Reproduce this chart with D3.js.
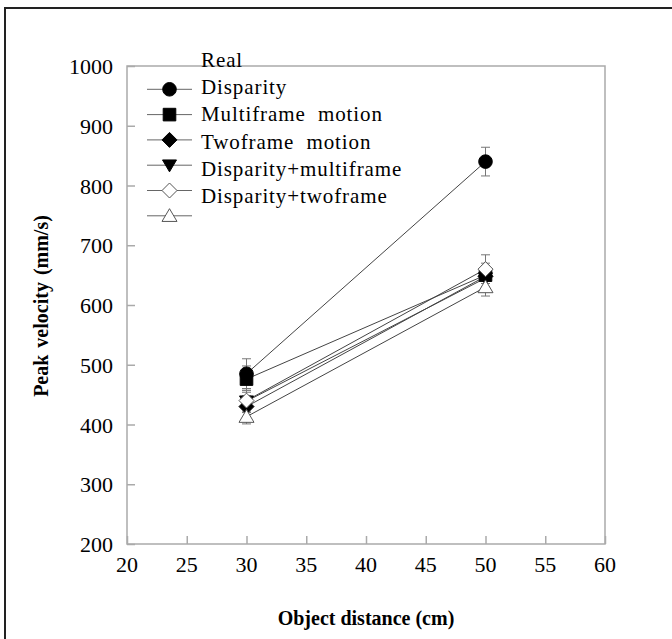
<!DOCTYPE html>
<html>
<head>
<meta charset="utf-8">
<script src="https://cdn.jsdelivr.net/npm/d3@7"></script>
<style>
  body { margin: 0; background: #fff; }
  svg { display: block; }
  text { font-family: "Liberation Serif", "Times New Roman", serif; fill: #000; }
</style>
</head>
<body>
<svg id="chart" width="672" height="639"></svg>
<script>
// object distance (cm)
var distances = [30, 50];
var xTicks = [20, 25, 30, 35, 40, 45, 50, 55, 60];
var yTicks = [200, 300, 400, 500, 600, 700, 800, 900, 1000];

// legend texts (they sit one row above their markers, as in the original)
var labels = ['Real', 'Disparity', 'Multiframe  motion', 'Twoframe  motion',
              'Disparity+multiframe', 'Disparity+twoframe'];
var shapes = ['circle', 'square', 'diamond', 'down', 'odiamond', 'otriangle'];

// peak velocity (mm/s) and error, per series, at 30 and 50 cm
var realV = [485, 840], realE = [25, 24];
var disparityV = [476, 650], disparityE = [22, 20];
var multiV = [430, 648], multiE = [18, 18];
var twoV = [439, 645], twoE = [18, 18];
var dispMultiV = [440, 660], dispMultiE = [20, 24];
var dispTwoV = [413, 630], dispTwoE = [12, 15];

var series = [
    { v: realV, e: realE },
    { v: disparityV, e: disparityE },
    { v: multiV, e: multiE },
    { v: twoV, e: twoE },
    { v: dispMultiV, e: dispMultiE },
    { v: dispTwoV, e: dispTwoE }
];

var svg = d3.select('#chart');
var plotL = 127, plotT = 66, plotR = 605, plotB = 544;

var x = d3.scaleLinear().domain([20, 60]).range([plotL, plotR]);
var y = d3.scaleLinear().domain([200, 1000]).range([plotB, plotT]);

// outer frame (only top and left edges are in view)
svg.append('path')
    .attr('d', 'M5,672V8H672')
    .attr('fill', 'none')
    .attr('stroke', '#222')
    .attr('stroke-width', 2);

// plot frame
svg.append('rect')
    .attr('x', plotL).attr('y', plotT)
    .attr('width', plotR - plotL).attr('height', plotB - plotT)
    .attr('fill', 'none').attr('stroke', '#aaa').attr('stroke-width', 1.5);

// axes with inward ticks
var yAxis = svg.append('g').attr('transform', 'translate(' + plotL + ',0)')
    .call(d3.axisRight(y).tickValues(yTicks).tickSize(8).tickFormat(''));
var xAxis = svg.append('g').attr('transform', 'translate(0,' + plotB + ')')
    .call(d3.axisTop(x).tickValues(xTicks).tickSize(8).tickFormat(''));
[yAxis, xAxis].forEach(function (g) {
    g.select('.domain').remove();
    g.selectAll('line').attr('stroke', '#aaa').attr('stroke-width', 1.5);
});

svg.selectAll('.ylab').data(yTicks).enter().append('text')
    .attr('x', plotL - 14).attr('y', function (d) { return y(d) + 8; })
    .attr('text-anchor', 'end').attr('font-size', 22)
    .text(function (d) { return d; });
svg.selectAll('.xlab').data(xTicks).enter().append('text')
    .attr('x', function (d) { return x(d); }).attr('y', 572)
    .attr('text-anchor', 'middle').attr('font-size', 22)
    .text(function (d) { return d; });

svg.append('text')
    .attr('transform', 'translate(48,306) rotate(-90)')
    .attr('text-anchor', 'middle').attr('font-size', 20).attr('font-weight', 'bold')
    .style('word-spacing', '2px')
    .text('Peak velocity (mm/s)');
svg.append('text')
    .attr('x', 366).attr('y', 625)
    .attr('text-anchor', 'middle').attr('font-size', 20).attr('font-weight', 'bold')
    .style('word-spacing', '0px')
    .text('Object distance (cm)');

function shapePath(kind, r) {
    switch (kind) {
        case 'circle':
            return 'M' + (-r) + ',0A' + r + ',' + r + ' 0 1,0 ' + r + ',0A' + r + ',' + r + ' 0 1,0 ' + (-r) + ',0Z';
        case 'square':
            return 'M' + (-r) + ',' + (-r) + 'H' + r + 'V' + r + 'H' + (-r) + 'Z';
        case 'diamond':
        case 'odiamond':
            return 'M0,' + (-r) + 'L' + r + ',0L0,' + r + 'L' + (-r) + ',0Z';
        case 'down':
            return 'M' + (-r) + ',' + (-r * 0.75) + 'H' + r + 'L0,' + (r * 0.95) + 'Z';
        case 'otriangle':
            return 'M0,' + (-r * 0.95) + 'L' + r + ',' + (r * 0.75) + 'H' + (-r) + 'Z';
    }
}
var shapeSize = { circle: 6.8, square: 6.3, diamond: 7.5, down: 7, odiamond: 7.5, otriangle: 7.5 };
function isOpen(kind) { return kind === 'odiamond' || kind === 'otriangle'; }

var line = d3.line()
    .x(function (d) { return x(d[0]); })
    .y(function (d) { return y(d[1]); });

// error bars first, then lines, then markers
series.forEach(function (s) {
    var pts = distances.map(function (d, i) { return { x: d, v: s.v[i], e: s.e[i] }; });
    var eb = svg.append('g').attr('stroke', '#777').attr('stroke-width', 1);
    pts.forEach(function (p) {
        var cx = x(p.x);
        eb.append('line').attr('x1', cx).attr('x2', cx)
            .attr('y1', y(p.v - p.e)).attr('y2', y(p.v + p.e));
        [p.v - p.e, p.v + p.e].forEach(function (c) {
            eb.append('line').attr('x1', cx - 4.5).attr('x2', cx + 4.5)
                .attr('y1', y(c)).attr('y2', y(c));
        });
    });
});

series.forEach(function (s) {
    svg.append('path')
        .attr('d', line(distances.map(function (d, i) { return [d, s.v[i]]; })))
        .attr('fill', 'none').attr('stroke', '#444').attr('stroke-width', 1);
});

series.forEach(function (s, k) {
    var kind = shapes[k];
    distances.forEach(function (d, i) {
        svg.append('path')
            .attr('d', shapePath(kind, shapeSize[kind]))
            .attr('transform', 'translate(' + x(d) + ',' + y(s.v[i]) + ')')
            .attr('fill', isOpen(kind) ? '#fff' : '#000')
            .attr('stroke', isOpen(kind) ? '#555' : '#000')
            .attr('stroke-width', 1);
    });
});

// legend
var legend = svg.append('g');
shapes.forEach(function (kind, k) {
    var ly = 89.3 + k * 25.3;
    legend.append('line').attr('x1', 147).attr('x2', 192)
        .attr('y1', ly).attr('y2', ly)
        .attr('stroke', '#666').attr('stroke-width', 1);
    legend.append('path')
        .attr('d', shapePath(kind, shapeSize[kind]))
        .attr('transform', 'translate(169.5,' + ly + ')')
        .attr('fill', isOpen(kind) ? '#fff' : '#000')
        .attr('stroke', isOpen(kind) ? '#555' : '#000')
        .attr('stroke-width', 1);
});
labels.forEach(function (t, k) {
    legend.append('text')
        .attr('x', 201).attr('y', 67 + k * 27.2)
        .attr('font-size', 21)
        .style('letter-spacing', '0.9px')
        .style('white-space', 'pre')
        .text(t);
});
</script>
</body>
</html>
